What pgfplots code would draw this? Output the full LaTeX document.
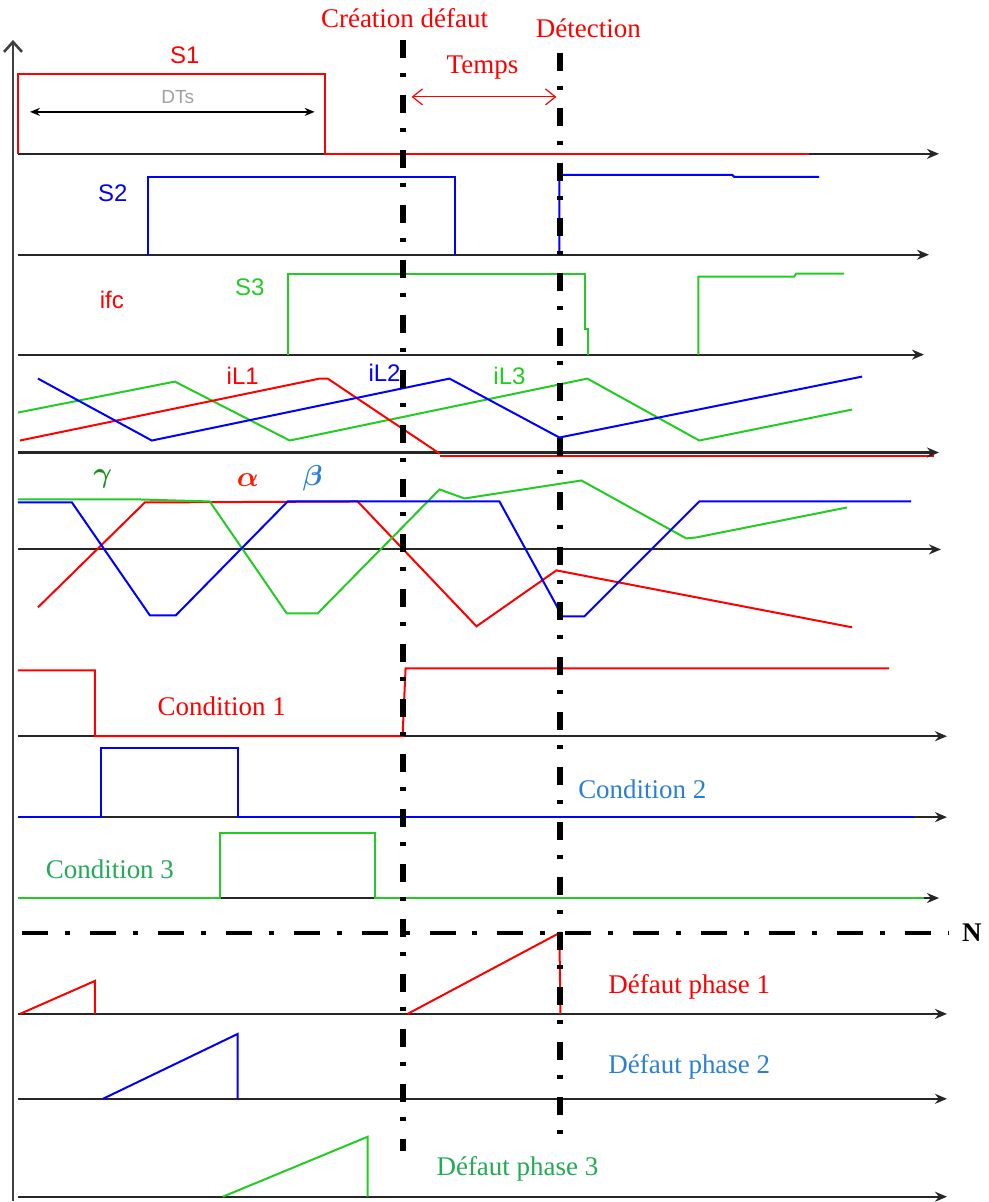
\documentclass[border=0pt]{standalone}
\usepackage{amsmath}
\usepackage{fontspec}
\setmainfont{Liberation Serif}
\newfontfamily\sansf{Liberation Sans}
\usepackage{pgfplots}
\pgfplotsset{compat=1.18}
\usetikzlibrary{arrows.meta}
\definecolor{sigred}{HTML}{FF0000}
\definecolor{sigblue}{HTML}{0000FF}
\definecolor{siggreen}{HTML}{22CC22}
\definecolor{txtblue}{HTML}{2A7FD4}
\definecolor{txtgreen}{HTML}{22AA55}
\definecolor{dtgray}{HTML}{A0A0A0}
\tikzset{
  base/.style={black!85, line width=1pt, -{Stealth[length=6pt,width=5pt]}},
  sig/.style={line width=1pt},
  vmark/.style={black, line width=3pt, dash pattern=on 9pt off 7.5pt on 2pt off 9pt},
  hmark/.style={black, line width=2.5pt, dash pattern=on 13pt off 8.5pt on 2.5pt off 10pt},
  lab/.style={font=\fontsize{13.5}{16}\selectfont},
  slab/.style={font=\sansf\fontsize{12}{14}\selectfont},
  glab/.style={font=\fontsize{14}{16}\selectfont},
}

\begin{document}
\begin{tikzpicture}
\begin{axis}[
  width=490pt, height=601pt, scale only axis,
  xmin=0, xmax=980, ymin=0, ymax=1202, y dir=reverse,
  hide axis, clip=false, no markers,
]
% frame of the page
\addplot[draw=none] coordinates {(0,0) (980,1202)};

% vertical axis
\addplot[black!75, line width=1.3pt, -{Straight Barb[length=5pt,width=9pt]}] coordinates {(13,1202) (13,40)};

% time axes
\addplot[base] coordinates {(18,154) (940,154)};
\addplot[base] coordinates {(18,255) (930,255)};
\addplot[base] coordinates {(18,355) (925,355)};
\addplot[sigred, line width=1pt] coordinates {(440,456) (935,456)};
\addplot[base, line width=1.8pt] coordinates {(18,453) (940,453)};
\addplot[base] coordinates {(18,550) (942,550)};
\addplot[base] coordinates {(18,737) (948,737)};
\addplot[base] coordinates {(18,818) (948,818)};
\addplot[base] coordinates {(18,899) (940,899)};
\addplot[base] coordinates {(18,1015) (948,1015)};
\addplot[base] coordinates {(18,1100) (948,1100)};
\addplot[base] coordinates {(18,1198) (948,1198)};

% S1, S2, S3
\addplot[sig, sigred] coordinates {(18,154) (18,74) (325,74) (325,154) (810,154)};
\addplot[sig, sigblue] coordinates {(148,255) (148,177) (455,177) (455,255)};
\addplot[sig, sigblue] coordinates {(560,255) (560,175) (733,175) (735,177) (820,177)};
\addplot[sig, siggreen] coordinates {(288,355) (288,274) (586,274) (586,329) (589,329) (589,355)};
\addplot[sig, siggreen] coordinates {(699,355) (699,277) (795,277) (797,274) (845,274)};

% inductor currents
\addplot[sig, siggreen] coordinates {(18,413) (175,382) (290,441) (588,379) (700,441) (853,410)};
\addplot[sig, sigred] coordinates {(20,441) (320,379) (328,379) (440,454)};
\addplot[sig, sigblue] coordinates {(38,379) (152,441) (450,379) (560,438) (863,377)};

% alpha, beta, gamma
\addplot[sig, sigred] coordinates {(38,608) (145,503) (358,502) (477,627) (557,571) (853,628)};
\addplot[sig, siggreen] coordinates {(18,500) (140,500) (210,502) (287,614) (318,614) (440,490) (465,499) (582,481) (687,539) (697,538) (848,508)};
\addplot[sig, sigblue] coordinates {(18,503) (72,503) (150,616) (176,616) (288,502) (500,502) (557,606) (562,617) (585,617) (700,502) (912,502)};

% conditions
\addplot[sig, sigred] coordinates {(18,671) (95,671) (95,737) (403,737) (406,669) (890,669)};
\addplot[sig, sigblue] coordinates {(18,818) (101,818) (101,749) (238,749) (238,818) (915,818)};
\addplot[sig, siggreen] coordinates {(18,899) (220,899) (220,834) (375,834) (375,899) (925,899)};

% fault counters
\addplot[sig, sigred] coordinates {(20,1015) (95,982) (95,1015)};
\addplot[sig, sigred] coordinates {(408,1015) (560,934) (561,1015)};
\addplot[sig, sigblue] coordinates {(103,1100) (238,1035) (238,1100)};
\addplot[sig, siggreen] coordinates {(223,1198) (368,1138) (368,1198)};

% threshold N and event markers
\addplot[hmark] coordinates {(22,934) (950,934)};
\addplot[vmark] coordinates {(403,40) (403,1152)};
\addplot[vmark] coordinates {(561,53) (561,1145)};

% DTs and Temps arrows
\addplot[black, line width=0.8pt, {Stealth[length=5pt,width=4pt]}-{Stealth[length=5pt,width=4pt]}] coordinates {(30,112) (315,112)};
\addplot[sigred, line width=0.6pt, {Straight Barb[length=5pt,width=8pt]}-{Straight Barb[length=5pt,width=8pt]}] coordinates {(412,97) (557,97)};

% labels
\node[lab, text=sigred] at (405,18) {Création défaut};
\node[lab, text=sigred] at (589,28) {Détection};
\node[lab, text=sigred] at (483,68) {Temps};
\node[slab, text=sigred] at (185,55) {S1};
\node[font=\sansf\fontsize{9.5}{11}\selectfont, text=dtgray] at (178,97) {DTs};
\node[slab, text=sigblue] at (113,193) {S2};
\node[slab, text=sigred] at (112,300) {ifc};
\node[slab, text=siggreen] at (250,288) {S3};
\node[slab, text=sigred] at (243,376) {iL1};
\node[slab, text=sigblue] at (385,373) {iL2};
\node[slab, text=siggreen] at (510,376) {iL3};
\node[glab, text=siggreen!70!black] at (103,479) {$\boldsymbol{\gamma}$};
\node[glab, text=sigred!80!orange] at (248,481) {$\boldsymbol{\alpha}$};
\node[glab, text=txtblue] at (313,479) {$\boldsymbol{\beta}$};
\node[lab, text=sigred] at (222,707) {Condition 1};
\node[lab, text=txtblue] at (643,790) {Condition 2};
\node[lab, text=txtgreen] at (110,870) {Condition 3};
\node[lab, text=sigred] at (690,988) {Défaut phase 1};
\node[lab, text=txtblue] at (690,1068) {Défaut phase 2};
\node[lab, text=txtgreen] at (518,1170) {Défaut phase 3};
\node[lab, font=\bfseries\fontsize{13.5}{16}\selectfont, anchor=west] at (956,934) {N};
\end{axis}
\end{tikzpicture}
\end{document}
